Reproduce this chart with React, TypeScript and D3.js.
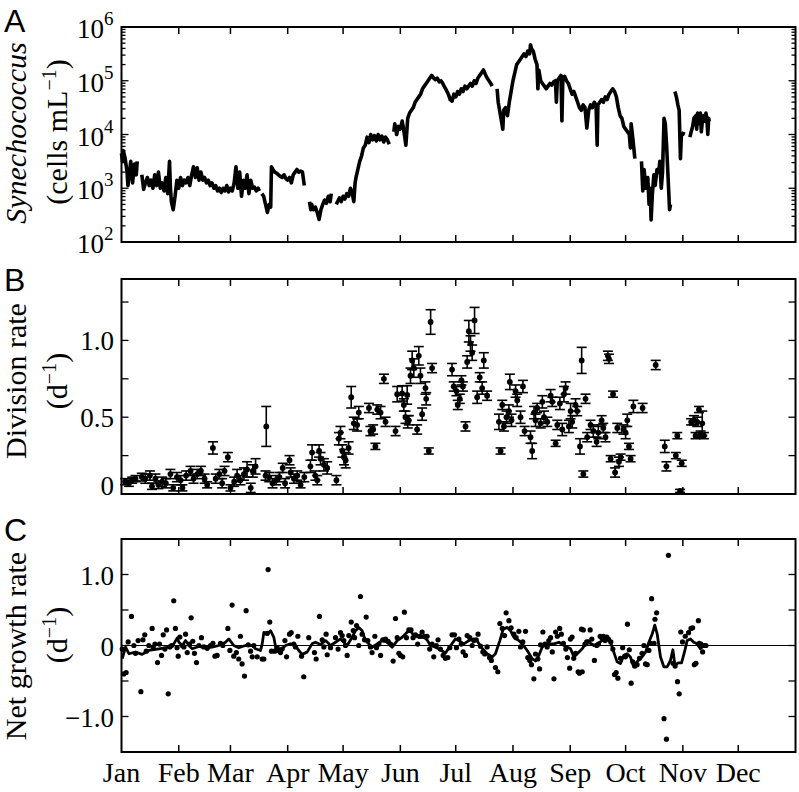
import React from "react";
import * as d3 from "d3";

// ---------- axis data ----------
const monthNames = ["Jan", "Feb", "Mar", "Apr", "May", "Jun", "Jul", "Aug", "Sep", "Oct", "Nov", "Dec"];
const monthStartDays = [0, 31, 59, 90, 120, 151, 181, 212, 243, 273, 304, 334, 365];
const aDecades = [2, 3, 4, 5, 6];
const bTickValues = [0, 0.25, 0.5, 0.75, 1.0, 1.25];
const bTickLabels = [["0", 0], ["0.5", 0.5], ["1.0", 1.0]] as [string, number][];
const cTickValues = [-1.5, -1.0, -0.5, 0, 0.5, 1.0, 1.5];
const cTickLabels = [["1.0", 1.0], ["0", 0], ["\u22121.0", -1.0]] as [string, number][];

// ---------- Panel A: Synechococcus abundance (log10 cells mL^-1), null = data gap ----------
const synDays = [
  0, 0.5, 1, 2, 3, 3.5, 4, 5, 6, 7, 8, 8.5, null,
  11, 12, 13, 14, 15, 16, 17, 18, 19, 20, 21, 22, 23, 24, 25, 26, 26.5, 27, 28, 29, 30, 31, 32, 33, 34, 35, 36, 37, 38, 39, 40,
  41, 42, 43, 44, 45, 46, 47, 48, 49, 50, 51, 52, 53, 54, 55, 56, 57, 58, 59, 60, 61, 62, 63, 64, 65, 66, 67, 68, 69, 70, 71, 72, 73, 74, 74.7, null,
  76, 77, 78, 79, 80, 80.8, 81.2, 82, 83, 84, 85, 86, 87, 88, 89, 90, 91, 92, 93, 94, 95, 96, 97, 98, 99, null,
  101.8, 102.5, 103, 104, 105, 106, 107, 108, 109, 110, 111, 112, 113, 113.6, null,
  116.3, 117, 118, 119, 120, 121, 122, 123, 124, 125, 125.8, 126.5, 127, 128, 129, 130, 131, 132, 133, 134, 135, 136, 137, 138, 139, 140, 141, 142, 143, 144, 145, null,
  147.5, 148, 149, 150, 151, 152, 153, 154, 155, 156, 157, 158, 159, 160, 161, 162, 163, 164, 165, 166, 167, 168, 169, 170, 171, 172, 173, 174, 175, 176, 177, 178, 179,
  180, 181, 182, 183, 184, 185, 186, 187, 188, 189, 190, 191, 192, 193, 194, 195, 196, 197, 198, 199, 200, 200.7, null,
  203.4, 204, 205, 206, 206.5, 207, 208, 209, 210, 211, 212, 213, 214, 215, 216, 217, 218, 219, 220, 221, 221.5, 222, 223, 224, 225, 225.5, 226, 227, 228, 229, 230,
  231, 232, 233, 234, 235, 235.5, 236, 237, 238, 238.5, 239, 240, 241, 242, 243, 244, 245, 246, 247, 248, 249, 250, 251, 252, 253, 254, 255, 256, 257, 257.6, 258,
  259, 260, 261, 262, 263, 264, 265, 266, 267, 268, 269, 270, 271, 272, 273, 274, 275, 275.6, 276, 277, 278, null,
  281.6, 282.3, 283, 284, 285, 285.7, 286.3, 286.8, 287.5, 288.3, 289, 290, 291, 291.5, 292.3, 293, 293.8, 294.5, 295.2, 296, 296.8, 297.3, null,
  299.7, 300.5, 301.3, 302, 302.7, 303.2, 304, 304.5, null,
  307.8, 308.5, 309.3, 310, 311, 311.5, 312, 313, 313.5, 314, 314.7, 315.3, 316, 316.5, 317, 317.5, 318, 318.3,
];
const synLog10 = [
  3.65, 3.5, 3.7, 3.55, 3.3, 3.05, 3.2, 3.5, 3.1, 3.45, 3.25, 3.5, null,
  3.25, 2.98, 3.1, 3.2, 3.05, 3.15, 3.0, 3.25, 3.05, 3.3, 3.0, 3.1, 2.95, 3.2, 2.9, 3.5, 3.0, 2.75, 2.6, 2.85, 3.15, 3.0, 3.2, 3.05, 3.15, 3.1, 3.2, 3.05, 3.25, 3.4, 3.2,
  3.38, 3.15, 3.3, 3.15, 3.2, 3.1, 3.15, 3.05, 3.1, 3.0, 3.05, 2.95, 3.0, 2.92, 3.0, 2.95, 3.05, 2.93, 3.0, 2.95, 3.1, 3.4, 3.0, 3.3, 2.85, 3.15, 3.0, 3.25, 2.9, 3.15, 3.0, 3.02, 2.95, 3.0, 2.95, null,
  2.9, 2.85, 2.7, 2.55, 2.7, 2.65, 3.4, 3.35, 3.3, 3.28, 3.25, 3.22, 3.2, 3.25, 3.18, 3.15, 3.2, 3.1, 3.25, 3.3, 3.35, 3.3, 3.32, 3.3, 3.05, null,
  2.75, 2.6, 2.7, 2.6, 2.65, 2.55, 2.42, 2.6, 2.7, 2.78, 2.72, 2.85, 2.75, 2.9, null,
  2.7, 2.75, 2.82, 2.75, 2.85, 2.8, 2.9, 2.85, 3.0, 2.9, 2.75, 3.1, 3.2, 3.35, 3.5, 3.6, 3.75, 3.8, 3.95, 3.85, 4.0, 3.9, 3.98, 3.88, 4.0, 3.9, 3.97, 3.86, 3.95, 3.9, 3.82, null,
  4.05, 4.2, 4.0, 4.15, 4.1, 4.25, 4.05, 3.8, 4.3, 4.4, 4.45, 4.5, 4.6, 4.65, 4.7, 4.75, 4.85, 4.9, 4.95, 5.0, 5.05, 5.1, 5.05, 5.02, 5.05, 4.98, 5.0, 4.95, 4.88, 4.82, 4.75, 4.65, 4.62,
  4.75, 4.7, 4.8, 4.75, 4.85, 4.8, 4.9, 4.85, 4.9, 4.95, 4.9, 5.0, 4.95, 5.05, 5.1, 5.15, 5.2, 5.12, 5.05, 5.0, 4.95, 4.9, null,
  4.85, 4.6, 4.4, 4.2, 4.1, 4.45, 4.5, 4.35, 4.6, 4.8, 5.0, 5.15, 5.3, 5.35, 5.4, 5.45, 5.5, 5.45, 5.55, 5.5, 5.67, 5.6, 5.55, 5.4, 5.3, 4.85, 5.2, 5.0, 4.95, 4.9, 4.85,
  4.9, 4.95, 4.92, 4.98, 5.0, 4.6, 5.0, 5.05, 5.1, 4.25, 5.05, 5.08, 5.0, 4.95, 4.85, 4.75, 4.8, 4.7, 4.6, 4.5, 4.45, 4.55, 4.5, 4.12, 4.45, 4.55, 4.5, 4.6, 4.55, 3.8, 4.55,
  4.6, 4.65, 4.6, 4.7, 4.65, 4.75, 4.8, 4.85, 4.8, 4.7, 4.5, 4.35, 4.3, 4.15, 4.1, 4.05, 4.0, 3.75, 4.2, 3.9, 3.55, null,
  3.5, 2.95, 3.35, 3.0, 3.2, 2.7, 3.0, 2.41, 2.9, 3.25, 3.05, 3.35, 3.3, 3.5, 3.0, 3.3, 4.3, 4.2, 3.8, 3.2, 2.6, 2.7, null,
  4.8, 4.7, 4.55, 4.45, 3.55, 4.0, 4.0, 4.05, null,
  3.95, 4.05, 4.15, 4.3, 4.35, 4.1, 4.4, 4.2, 4.4, 4.05, 4.3, 4.35, 4.25, 4.4, 4.3, 4.0, 4.3, 4.25,
];

// ---------- Panel B: division rate (d^-1) with error ----------
const bDays = [
  2, 4, 5.8, 7.6, 11, 12.9, 15.4, 16.5, 18.4, 20, 22, 24, 26.5, 28, 30, 32, 33, 35, 37.4, 39, 41, 43, 45, 46.4, 49.5, 51, 53, 54.5, 55.8, 57.6,
  59, 61, 62.6, 64.4, 66.3, 68, 70, 71.1, 72.6, 78, 78.4, 80, 81.8, 83.7, 85.5, 87.3, 88.6, 91, 91.6, 93.4, 95.2, 97, 99, 102.3, 103.2, 105, 106, 107, 107.8, 109.6,
  111.4, 116.4, 117.7, 118.6, 119.6, 120.5, 121.4, 123, 124.4, 125.8, 127.6, 128.5, 134, 134.8, 136.3, 137.5, 138.5, 140.3, 142.1, 143, 148.4, 149.3,
  152, 152.9, 153.8, 154.7, 155, 155.6, 156.5, 157.4, 158.3, 160.1, 161, 161.9, 162.8, 164.6, 165, 166.4, 167.4, 168.2, 179, 179.9, 181.4, 182.1, 183.2, 184.1, 184.9,
  186.3, 187.2, 188.1, 189, 189.9, 191.2, 192.6, 194, 195.3, 196.2, 198, 204.4, 205.3, 206.2, 207.1, 208.5, 209.8, 210.3, 211.2, 213.4, 214.3, 216.1, 217.4, 218.3,
  221.5, 222.4, 223.4, 224.2, 225.1, 227, 227.9, 228.8, 230.6, 232.4, 233.3, 235.1, 236, 237.4, 238.7, 239.6, 240.5, 242.3, 243.2, 244.1, 245.9, 246.8, 248.3, 249.2,
  250.1, 251.3, 252.2, 254, 255.5, 257.3, 258.2, 260, 260.9, 262.1, 263.4, 264, 264.9, 266.2, 267.3, 268.5, 269.4, 270.3, 271.8, 273, 273.9, 274.8, 275.7, 277.2,
  282.2, 289.3, 294.2, 295.1, 300.2, 301, 302.5, 303.4, 308.5, 310, 310.9, 311.8, 312.7, 313.6, 314.5, 315.4,
];
const bRate = [
  0.08, 0.07, 0.09, 0.1, 0.11, 0.1, 0.12, 0.05, 0.1, 0.06, 0.08, 0.07, 0.13, 0.04, 0.11, 0.09, 0.04, 0.12, 0.15, 0.1, 0.13, 0.15, 0.1, 0.06, 0.3, 0.1, 0.13, 0.07, 0.15, 0.24,
  0.04, 0.08, 0.12, 0.09, 0.13, 0.16, 0.04, 0.15, 0.18, 0.12, 0.44, 0.11, 0.07, 0.09, 0.11, 0.17, 0.07, 0.22, 0.14, 0.1, 0.12, 0.06, 0.11, 0.18, 0.27, 0.12, 0.09, 0.28, 0.23, 0.19,
  0.17, 0.09, 0.36, 0.4, 0.28, 0.24, 0.22, 0.3, 0.63, 0.46, 0.45, 0.53, 0.56, 0.41, 0.42, 0.31, 0.55, 0.53, 0.75, 0.47, 0.41, 0.65,
  0.655, 0.58, 0.5, 0.645, 0.47, 0.48, 0.77, 0.87, 0.82, 0.42, 0.9, 0.77, 0.52, 0.69, 0.62, 0.28, 1.12, 0.82, 0.81, 0.7, 0.67, 0.58, 0.62, 0.74, 0.7,
  0.44, 0.86, 1.06, 0.98, 0.92, 1.13, 0.63, 0.76, 0.69, 0.87, 0.64, 0.47, 0.28, 0.58, 0.44, 0.5, 0.54, 0.73, 0.48, 0.67, 0.61, 0.5, 0.7, 0.41,
  0.37, 0.28, 0.53, 0.48, 0.56, 0.46, 0.6, 0.5, 0.47, 0.64, 0.6, 0.33, 0.45, 0.59, 0.42, 0.65, 0.69, 0.44, 0.54, 0.47, 0.58, 0.54, 0.31, 0.87,
  0.13, 0.62, 0.37, 0.45, 0.41, 0.34, 0.4, 0.48, 0.43, 0.37, 0.9, 0.88, 0.23, 0.65, 0.14, 0.43, 0.21, 0.24, 0.42, 0.4, 0.48, 0.31, 0.23, 0.57,
  0.56, 0.84, 0.31, 0.18, 0.25, 0.38, 0.02, 0.2, 0.47, 0.48, 0.38, 0.47, 0.55, 0.39, 0.46, 0.38,
];
const bErr = [
  0.02, 0.02, 0.02, 0.02, 0.025, 0.03, 0.03, 0.02, 0.03, 0.025, 0.03, 0.03, 0.03, 0.02, 0.03, 0.03, 0.02, 0.03, 0.03, 0.03, 0.03, 0.03, 0.03, 0.02, 0.04, 0.03, 0.03, 0.03, 0.03, 0.03,
  0.02, 0.03, 0.04, 0.03, 0.04, 0.05, 0.03, 0.04, 0.05, 0.03, 0.13, 0.03, 0.03, 0.03, 0.03, 0.03, 0.03, 0.03, 0.03, 0.03, 0.03, 0.02, 0.03, 0.04, 0.05, 0.03, 0.03, 0.04, 0.04, 0.04,
  0.04, 0.03, 0.04, 0.04, 0.04, 0.05, 0.05, 0.04, 0.07, 0.04, 0.04, 0.04, 0.03, 0.03, 0.03, 0.02, 0.03, 0.04, 0.03, 0.03, 0.03, 0.05,
  0.05, 0.04, 0.04, 0.06, 0.04, 0.03, 0.05, 0.06, 0.06, 0.03, 0.06, 0.05, 0.04, 0.04, 0.04, 0.02, 0.08, 0.03, 0.04, 0.03, 0.03, 0.03, 0.03, 0.03, 0.03,
  0.03, 0.04, 0.07, 0.05, 0.05, 0.085, 0.04, 0.03, 0.04, 0.05, 0.03, 0.05, 0.02, 0.03, 0.03, 0.04, 0.04, 0.05, 0.04, 0.04, 0.04, 0.04, 0.04, 0.03,
  0.04, 0.05, 0.04, 0.04, 0.03, 0.03, 0.04, 0.04, 0.03, 0.04, 0.03, 0.02, 0.03, 0.04, 0.04, 0.05, 0.04, 0.04, 0.05, 0.04, 0.04, 0.03, 0.05, 0.085,
  0.02, 0.03, 0.03, 0.03, 0.04, 0.03, 0.04, 0.03, 0.03, 0.03, 0.03, 0.03, 0.02, 0.02, 0.03, 0.03, 0.03, 0.02, 0.03, 0.04, 0.04, 0.02, 0.02, 0.04,
  0.03, 0.03, 0.04, 0.03, 0.02, 0.02, 0.01, 0.02, 0.02, 0.03, 0.02, 0.03, 0.02, 0.02, 0.08, 0.02,
];

// ---------- Panel C: net growth rate (d^-1) daily points ----------
const cDays = [
  0.4, 1.3, 2.5, 3.6, 5.4, 6.7, 7.6, 9, 10.5, 11.6, 12.6, 13.4, 14.8, 16.6, 17.2, 18.1, 19.5, 20.6, 21.7, 22.6, 23.5, 24.4, 25.3, 26.2, 27.1, 28.3, 29.2, 30.1, 30.7, 31.6,
  32.9, 33.8, 34.7, 35.6, 36.8, 37.7, 38.6, 39.5, 40.6, 41.9, 43.3, 44.6, 46.4, 48.2, 49.5, 50.6, 51.8, 53.6, 54.9, 57.6, 58.7, 59.9, 60.8, 62.2, 63.5, 64.4, 65.3, 66.6,
  67.5, 68.6, 69.9, 70.8, 71.7, 73.5, 76.2, 77.1, 78.9, 79.4, 80.3, 81.2, 83, 84.3, 85.2, 86.1, 87, 88.5, 89.4, 91, 91.9, 93.3, 94.2, 95.5, 97.5, 98.7, 101.4, 104.5,
  105.4, 107.2, 108.7, 109.6, 110.8, 111.4, 113.2, 115.9, 117.3, 118.6,
  119.5, 120.4, 121.3, 122.2, 123.1, 124.4, 125.5, 126.2, 127.3, 128.5, 129.4, 130.3, 131.6, 132.5, 133.4, 134.8, 135.7, 137.2, 138.1, 139.4, 140.3, 141.5, 143, 144.4,
  145.7, 147.1, 148.4, 149.3, 150.2, 151.1, 152.3, 153.2, 154.3, 155.6, 156.8, 157.9, 159.2, 160.4, 161.5, 162.8, 164, 165.5, 166.9, 168.2, 169.1, 170.5, 171.4, 172.7,
  174.2, 175.4, 176.7, 177.8, 179, 180.3, 181.4, 182.7, 184, 185, 186.3, 187.2, 188.6, 189.9, 190.8, 192.1, 193.1, 194.4, 195.7, 196.7, 198, 199.3, 200.3, 202.5, 203.8,
  204.9, 206.2, 207.4, 208.3, 209.8, 211, 212.5, 213.7, 215.2, 216.1, 217.3, 218.8, 220, 221.1, 222, 223.3, 224.2, 225.5, 226.4, 226.9, 228.2, 229.3, 230.5, 231.4,
  232.4, 233.3, 234.2, 235.1, 236, 237.3, 238.2, 239.3, 240.6, 241.5, 242.7,
  243.1, 244, 244.9, 245.9, 247.3, 248, 249.5, 249.1, 250.1, 251, 251.9, 252.8, 253.8, 254.7, 256.1, 257.4, 258.3, 259.2, 260.1, 261, 261.9, 262.8, 263.7, 265, 266.1,
  267, 267.9, 268.8, 270.2, 271.4, 272.9, 274, 275, 276, 276.9, 278, 279.2, 280.5, 281.9, 282.9, 283.8, 284.7, 285.6, 286.5, 287.1, 288.4, 288.9, 289.8, 293.8, 295.1,
  296.2, 298.7, 299.8, 301.1, 302, 302.9, 303.8, 305.3, 307.1, 308.4, 309.3, 310.2, 311.1, 312.4, 312.9, 313.8, 314.7, 315.6, 316.5,
];
const cRate = [
  -0.05, -0.4, -0.38, 0.05, 0.41, 0.0, -0.11, 0.07, -0.65, 0.08, 0.15, -0.08, 0.0, 0.24, -0.03, 0.02, -0.24, 0.02, -0.14, 0.15, -0.05, 0.22, -0.68, -0.02, 0.0, 0.63, 0.24, -0.03, -0.15, 0.12,
  0.0, -0.02, 0.16, -0.1, 0.02, 0.39, 0.06, -0.11, -0.24, 0.0, 0.11, -0.02, -0.04, 0.0, 0.03, -0.15, -0.14, 0.03, 0.0, 0.24, -0.07, 0.57, -0.15, -0.1, -0.19, 0.13, -0.26, -0.43,
  0.49, 0.01, -0.08, -0.16, 0.0, -0.16, -0.19, -0.19, 0.17, 1.07, 0.33, -0.08, -0.08, -0.03, -0.07, -0.1, -0.05, 0.07, -0.16, 0.16, 0.18, 0.02, -0.02, 0.13, -0.15, -0.44, 0.11, -0.1,
  -0.19, 0.41, 0.08, -0.02, 0.16, -0.13, -0.03, 0.11, -0.05, 0.18,
  0.14, 0.07, 0.0, -0.14, 0.14, 0.33, 0.21, 0.11, 0.28, 0.0, 0.69, 0.16, 0.08, 0.4, 0.07, -0.02, -0.1, 0.13, -0.03, 0.02, -0.14, 0.08, 0.09, 0.06,
  0.02, -0.22, 0.38, 0.11, -0.11, -0.14, -0.16, 0.47, 0.11, 0.22, 0.22, 0.11, 0.15, 0.02, 0.13, 0.19, 0.13, 0.13, -0.05, 0.02, -0.16, 0.0, 0.08, -0.05,
  -0.14, -0.18, -0.17, -0.03, 0.15, 0.15, -0.03, 0.09, 0.02, -0.09, -0.14, 0.14, 0.11, 0.0, 0.07, 0.08, 0.16, -0.01, -0.09, -0.12, -0.02, -0.17, -0.21, -0.31, -0.37,
  0.31, 0.24, 0.14, 0.46, 0.35, 0.25, 0.16, 0.11, 0.2, -0.02, 0.05, 0.2, -0.17, -0.21, -0.27, -0.47, -0.12, -0.19, -0.33, 0.01, 0.19, 0.02, -0.02, 0.07,
  0.11, -0.09, -0.47, 0.19, 0.13, 0.24, 0.16, 0.03, -0.05, -0.17, -0.32,
  0.09, 0.12, -0.18, -0.11, -0.37, -0.39, -0.37, 0.23, 0.22, 0.02, 0.05, 0.05, 0.22, 0.09, -0.21, 0.0, 0.02, 0.13, 0.11, 0.13, 0.07, 0.12, 0.09, 0.05, -0.05,
  -0.41, -0.38, -0.46, -0.18, -0.03, -0.16, 0.3, -0.06, -0.53, -0.23, -0.29, -0.27, -0.18, -0.11, 0.0, -0.26, -0.27, -0.07, 0.03, 0.66, 0.03, 0.37, 0.46, -1.03, -1.32,
  1.27, -0.25, -0.29, -0.51, -0.68, 0.19, 0.05, 0.13, 0.18, 0.24, 0.25, -0.27, -0.25, 0.35, 0.03, 0.02, -0.09, 0.0, 0.0,
];

// ---------- Panel C: smoothed net growth rate ----------
const sDays = [
  0.4, 2.2, 4.0, 7.6, 11.2, 14.8, 20.2, 25.6, 28.3, 30.2, 31.1, 32.9, 34.7, 36.5, 38.3, 41.9, 45.5, 49.1, 52.7, 56.3, 58.1, 60.8, 63.5, 67.1, 70.8, 72.6, 75.3, 76.2,
  77.1, 78.9, 80.7, 82.5, 83.8, 86.1, 88.8, 91.5, 94.2, 96.0, 97.8, 100.5, 103.2, 105.0, 107.8, 110.5, 113.2, 115.9, 118.6,
  122.2, 124.9, 126.7, 128.5, 130.3, 132.1, 133.9, 135.7, 138.5, 141.1, 143.9, 146.6, 149.3, 152.0, 154.7, 156.5, 158.3, 161.0, 163.7, 165.5, 167.3, 170.0, 172.7,
  175.4, 178.2, 180.9, 182.7, 185.4, 188.1, 190.8, 192.6, 194.4, 198.0, 200.7, 202.5, 204.9, 206.7, 208.9, 210.7, 212.5, 215.2, 217.0, 219.7, 222.4, 224.2, 226.0,
  227.8, 230.5, 234.2, 236.9, 239.6, 243.2, 245.0, 246.8, 249.5, 251.3, 253.1, 255.8, 257.6, 260.3, 263.0, 264.8, 266.6, 268.4, 270.2, 272.0, 273.8, 275.6, 277.4,
  279.2, 281.9, 283.8, 285.6, 287.4, 288.8, 290.1, 291.9, 293.7, 295.5, 297.3, 298.6, 299.7, 301.5, 303.3, 305.1, 306.3, 308.1, 309.9, 311.7, 313.5, 315.3, 317.1,
];
const sRate = [
  -0.185, -0.024, -0.116, -0.093, -0.125, -0.07, -0.046, -0.024, 0.023, 0.106, 0.046, 0.0, 0.069, 0.0, -0.046, -0.014, -0.032, -0.024, 0.0, 0.046, 0.093, 0.0, -0.032, 0.0, 0.0, -0.046, -0.07, 0.023,
  0.185, 0.162, 0.208, 0.116, -0.07, -0.07, 0.0, 0.023, 0.0, -0.07, -0.125, -0.093, 0.023, 0.046, 0.014, 0.069, 0.0, 0.046, 0.093,
  0.0, 0.116, 0.208, 0.255, 0.208, 0.069, 0.023, -0.024, 0.023, 0.069, 0.046, -0.024, 0.069, 0.116, 0.185, 0.208, 0.139, 0.116, 0.116, 0.079, 0.0, -0.024, -0.06,
  -0.107, 0.0, 0.093, 0.069, 0.023, 0.069, 0.093, 0.069, -0.014, -0.116, -0.162, -0.116, 0.069, 0.231, 0.255, 0.208, 0.116, 0.069, 0.023, -0.07, -0.185, -0.218, -0.139,
  -0.024, 0.023, 0.023, 0.046, 0.0, -0.046, -0.162, -0.116, -0.046, 0.023, 0.046, 0.0, 0.023, 0.069, 0.093, 0.046, -0.093, -0.23, -0.255, -0.139, -0.116, -0.162, -0.3,
  -0.23, -0.162, -0.093, 0.046, 0.162, 0.287, 0.162, -0.162, -0.3, -0.3, -0.208, -0.06, -0.278, -0.245, -0.245, -0.07, 0.069, 0.093, 0.046, 0.023, -0.046, 0.0, 0.0,
];

// ---------- layout ----------
const W = 799;
const H = 792;
const X0 = 121.5;
const X1 = 795.5;
const panelA = { top: 27, bottom: 242 };
const panelB = { top: 279, bottom: 494 };
const panelC = { top: 539, bottom: 752 };
const SERIF = "Liberation Serif, Times New Roman, Times, DejaVu Serif, serif";
const SANS = "Liberation Sans, Arial, Helvetica, sans-serif";
const MAJOR = 7;
const MINOR = 4;

function MonthTicks({ x, top, bottom }: { x: d3.ScaleLinear<number, number>; top: number; bottom: number }) {
  return (
    <g stroke="#000" strokeWidth={1.5}>
      {monthStartDays.slice(1, -1).map((d) => (
        <g key={d}>
          <line x1={x(d)} x2={x(d)} y1={top} y2={top + MAJOR} />
          <line x1={x(d)} x2={x(d)} y1={bottom} y2={bottom - MAJOR} />
        </g>
      ))}
    </g>
  );
}

function YTicks({ ys, len }: { ys: number[]; len: number[] }) {
  return (
    <g stroke="#000" strokeWidth={1.3}>
      {ys.map((y, i) => (
        <g key={i}>
          <line x1={X0} x2={X0 + len[i]} y1={y} y2={y} />
          <line x1={X1} x2={X1 - len[i]} y1={y} y2={y} />
        </g>
      ))}
    </g>
  );
}

export default function App() {
  const x = d3.scaleLinear().domain([0, 365]).range([X0, X1]);
  const yA = d3.scaleLog().domain([1e2, 1e6]).range([panelA.bottom, panelA.top]);
  const yB = d3.scaleLinear().domain([0, 1.4]).range([panelB.bottom, panelB.top]);
  const yC = d3.scaleLinear().domain([-1.5, 1.5]).range([panelC.bottom, panelC.top]);

  const aPts = synDays.map((d, i) => ({ d, v: synLog10[i] }));
  const aLine = d3
    .line<{ d: number | null; v: number | null }>()
    .defined((p) => p.d != null && p.v != null)
    .x((p) => x(p.d as number))
    .y((p) => yA(Math.pow(10, p.v as number)));

  const aTickYs: number[] = [];
  const aTickLen: number[] = [];
  for (let k = 2; k <= 5; k++) {
    for (let m = 1; m <= 9; m++) {
      aTickYs.push(yA(m * Math.pow(10, k)));
      aTickLen.push(m === 1 ? MAJOR : MINOR);
    }
  }
  aTickYs.push(yA(1e6));
  aTickLen.push(MAJOR);

  const bPts = bDays.map((d, i) => ({ d, v: bRate[i], e: bErr[i] }));
  const cPts = cDays.map((d, i) => ({ d, v: cRate[i] }));
  const sPts = sDays.map((d, i) => ({ d, v: sRate[i] }));
  const sLine = d3
    .line<{ d: number; v: number }>()
    .x((p) => x(p.d))
    .y((p) => yC(p.v));

  const capW = 5;
  const txt = { fontFamily: SERIF };

  return (
    <svg
      width={W}
      height={H}
      style={{ position: "absolute", left: 0, top: 0, background: "#fff", fontFamily: SERIF }}
    >
      <rect x={0} y={0} width={W} height={H} fill="#fff" />

      {/* ---------------- Panel A ---------------- */}
      <path d={aLine(aPts) || ""} fill="none" stroke="#000" strokeWidth={3.6} strokeLinejoin="round" />
      <MonthTicks x={x} top={panelA.top} bottom={panelA.bottom} />
      <YTicks ys={aTickYs} len={aTickLen} />
      <rect x={X0} y={panelA.top} width={X1 - X0} height={panelA.bottom - panelA.top} fill="none" stroke="#000" strokeWidth={2} />
      {aDecades.map((k) => (
        <g key={k} style={txt}>
          <text x={104} y={yA(Math.pow(10, k)) + 11} fontSize={27} textAnchor="end">10</text>
          <text x={104} y={yA(Math.pow(10, k)) - 2} fontSize={19} textAnchor="start">{k}</text>
        </g>
      ))}
      <text style={txt} transform="translate(26,133) rotate(-90)" fontSize={30} fontStyle="italic" textAnchor="middle">Synechococcus</text>
      <text style={txt} transform="translate(67,132) rotate(-90)" fontSize={30} textAnchor="middle">
        (cells mL<tspan dy={-11} fontSize={20}>{"\u22121"}</tspan><tspan dy={11}>)</tspan>
      </text>
      <text x={4} y={32} style={{ fontFamily: SANS }} fontSize={32}>A</text>

      {/* ---------------- Panel B ---------------- */}
      <g stroke="#000" strokeWidth={1.6}>
        {bPts.map((p, i) => (
          <g key={i}>
            <line x1={x(p.d)} x2={x(p.d)} y1={yB(p.v - p.e)} y2={yB(p.v + p.e)} />
            <line x1={x(p.d) - capW} x2={x(p.d) + capW} y1={yB(p.v - p.e)} y2={yB(p.v - p.e)} />
            <line x1={x(p.d) - capW} x2={x(p.d) + capW} y1={yB(p.v + p.e)} y2={yB(p.v + p.e)} />
          </g>
        ))}
      </g>
      <g fill="#000">
        {bPts.map((p, i) => (
          <circle key={i} cx={x(p.d)} cy={yB(p.v)} r={2.9} />
        ))}
      </g>
      <MonthTicks x={x} top={panelB.top} bottom={panelB.bottom} />
      <YTicks ys={bTickValues.map((v) => yB(v))} len={bTickValues.map(() => MAJOR)} />
      <rect x={X0} y={panelB.top} width={X1 - X0} height={panelB.bottom - panelB.top} fill="none" stroke="#000" strokeWidth={2} />
      {bTickLabels.map(([t, v]) => (
        <text key={t} style={txt} x={114} y={v === 0 ? yB(v) + 1 : yB(v) + 10} fontSize={27} textAnchor="end">{t}</text>
      ))}
      <text style={txt} transform="translate(26,381) rotate(-90)" fontSize={30} textAnchor="middle">Division rate</text>
      <text style={txt} transform="translate(67,381) rotate(-90)" fontSize={30} textAnchor="middle">
        (d<tspan dy={-11} fontSize={20}>{"\u22121"}</tspan><tspan dy={11}>)</tspan>
      </text>
      <text x={4} y={291} style={{ fontFamily: SANS }} fontSize={32}>B</text>

      {/* ---------------- Panel C ---------------- */}
      <line x1={X0} x2={X1} y1={yC(0)} y2={yC(0)} stroke="#000" strokeWidth={1} />
      <g fill="#000">
        {cPts.map((p, i) => (
          <circle key={i} cx={x(p.d)} cy={yC(p.v)} r={2.6} />
        ))}
      </g>
      <path d={sLine(sPts) || ""} fill="none" stroke="#000" strokeWidth={2.8} strokeLinejoin="round" />
      <MonthTicks x={x} top={panelC.top} bottom={panelC.bottom} />
      <YTicks ys={cTickValues.map((v) => yC(v))} len={cTickValues.map(() => MAJOR)} />
      <rect x={X0} y={panelC.top} width={X1 - X0} height={panelC.bottom - panelC.top} fill="none" stroke="#000" strokeWidth={2} />
      {cTickLabels.map(([t, v]) => (
        <text key={t} style={txt} x={114} y={yC(v) + 10} fontSize={27} textAnchor="end">{t}</text>
      ))}
      <text style={txt} transform="translate(26,646) rotate(-90)" fontSize={30} textAnchor="middle">Net growth rate</text>
      <text style={txt} transform="translate(67,635) rotate(-90)" fontSize={30} textAnchor="middle">
        (d<tspan dy={-11} fontSize={20}>{"\u22121"}</tspan><tspan dy={11}>)</tspan>
      </text>
      <text x={4} y={541} style={{ fontFamily: SANS }} fontSize={32}>C</text>

      {/* ---------------- month labels ---------------- */}
      {monthNames.map((m, i) => (
        <text key={m} style={txt} x={x(monthStartDays[i])} y={782} fontSize={28} textAnchor="middle">{m}</text>
      ))}
    </svg>
  );
}
